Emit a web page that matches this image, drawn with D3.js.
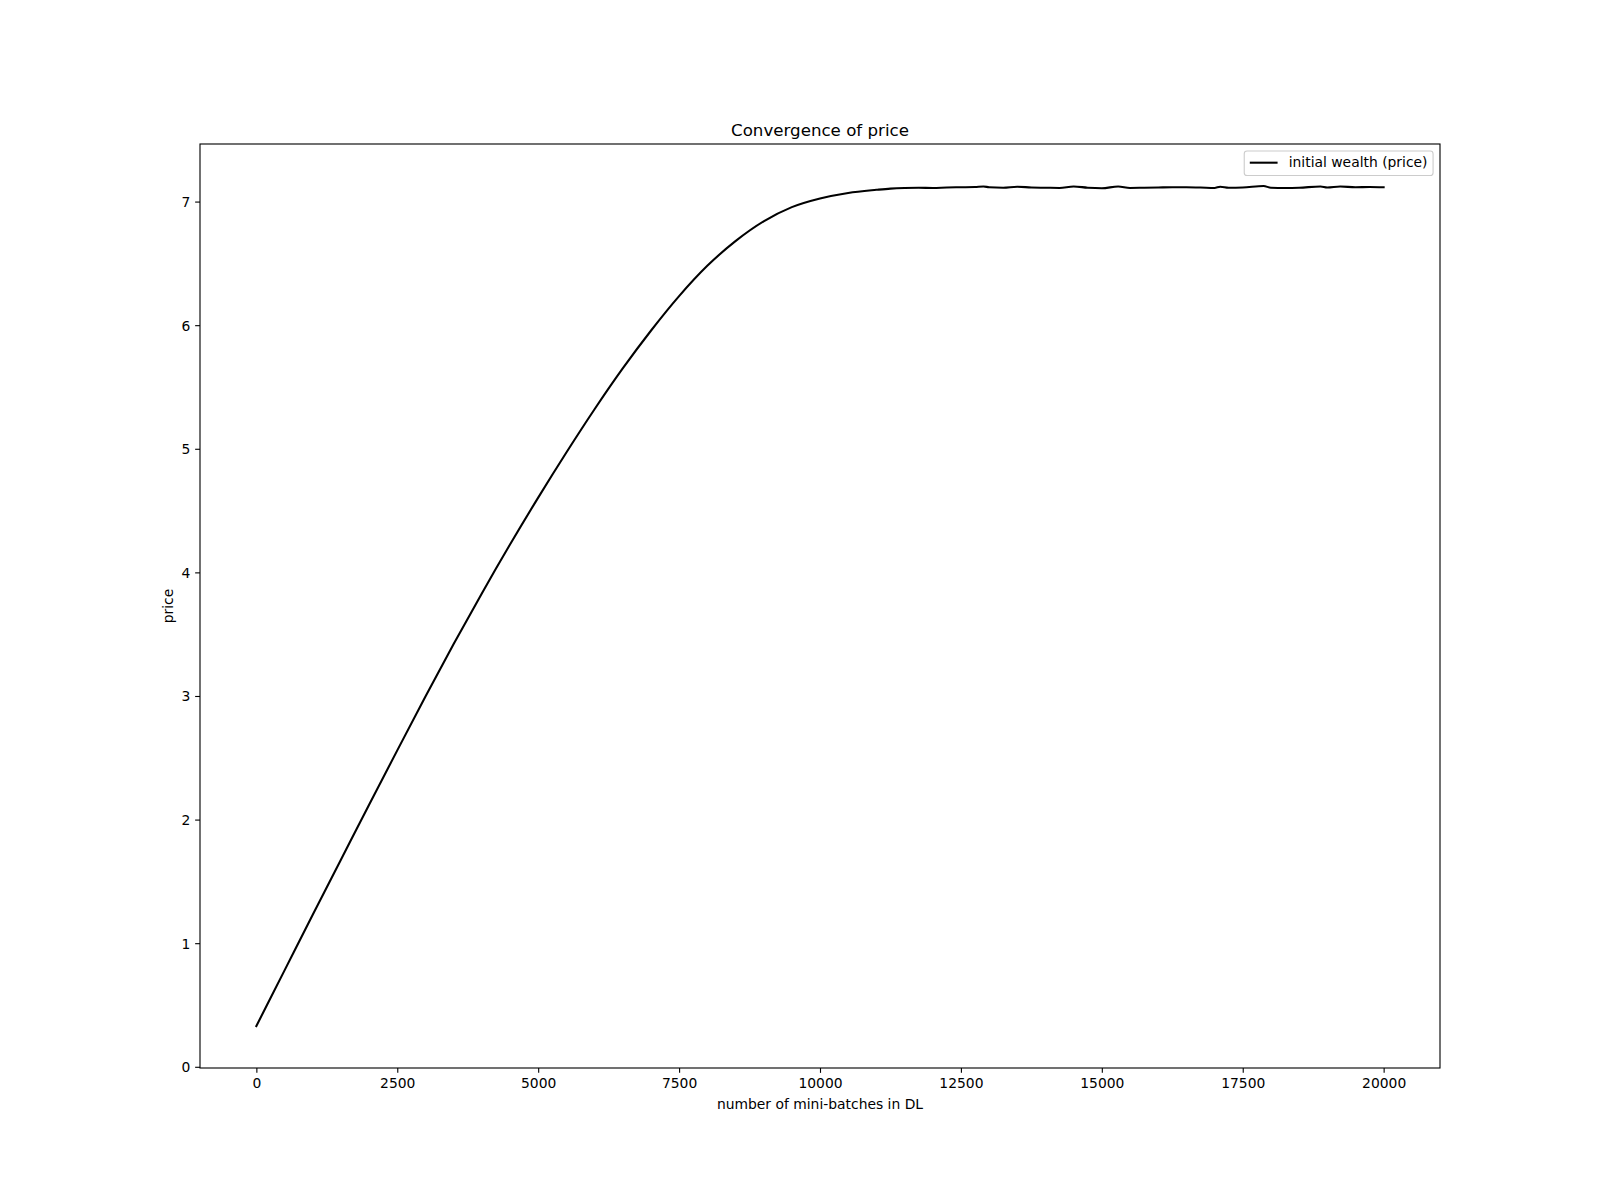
<!DOCTYPE html>
<html>
<head>
<meta charset="utf-8">
<script src="https://cdn.jsdelivr.net/npm/d3@7"></script>
<style>
  html, body { margin: 0; padding: 0; background: #fff; }
  svg { display: block; font-family: "DejaVu Sans", sans-serif; }
</style>
</head>
<body>
<svg id="chart" width="1600" height="1200"></svg>
<script>
// ---- data ----
const steps = [0, 500, 1000, 1500, 2000, 2500, 3000, 3500, 4000, 4500, 5000, 5500, 6000, 6500,
  7000, 7500, 8000, 8500, 9000, 9500, 10000, 10500, 11000, 11250, 11500, 11750, 12000, 12250,
  12500, 12750, 12900, 13000, 13250, 13500, 13750, 14000, 14250, 14500, 14750, 15000, 15290,
  15500, 15750, 16000, 16250, 16500, 16750, 17000, 17100, 17250, 17500, 17870, 18000, 18250,
  18500, 18880, 19000, 19230, 19500, 19750, 20000];
const price = [0.33, 0.78, 1.23, 1.675, 2.12, 2.56, 2.995, 3.42, 3.83, 4.225, 4.605, 4.97, 5.32, 5.65,
  5.955, 6.235, 6.48, 6.68, 6.84, 6.955, 7.025, 7.07, 7.095, 7.105, 7.110, 7.112, 7.110, 7.114,
  7.116, 7.118, 7.122, 7.116, 7.112, 7.120, 7.114, 7.112, 7.110, 7.122, 7.112, 7.108, 7.122,
  7.110, 7.112, 7.114, 7.116, 7.116, 7.114, 7.110, 7.120, 7.112, 7.114, 7.126, 7.112, 7.110,
  7.112, 7.122, 7.114, 7.122, 7.116, 7.118, 7.116];
const xTicks = [0, 2500, 5000, 7500, 10000, 12500, 15000, 17500, 20000];
const yTicks = [0, 1, 2, 3, 4, 5, 6, 7];
const titleText = "Convergence of price";
const xLabelText = "number of mini-batches in DL";
const yLabelText = "price";
const seriesName = "initial wealth (price)";

// ---- layout (matplotlib default figure 16x12 @100dpi) ----
const L = 200, R = 1440, T = 144, B = 1068;
const svg = d3.select("#chart");

const xMin = d3.min(steps), xMax = d3.max(steps);
const yMin = d3.min(price), yMax = d3.max(price);
const xPad = (xMax - xMin) * 0.05, yPad = (yMax - yMin) * 0.05;
const x = d3.scaleLinear().domain([xMin - xPad, xMax + xPad]).range([L, R]);
const y = d3.scaleLinear().domain([yMin - yPad, yMax + yPad]).range([B, T]);

const fs = 13.89;
const tickLen = 4.86, tickPad = 4.86;

// line
const line = d3.line()
  .x((d, i) => x(steps[i]))
  .y(d => y(d))
  .curve(d3.curveMonotoneX);
svg.append("path")
  .datum(price)
  .attr("fill", "none")
  .attr("stroke", "#000")
  .attr("stroke-width", 2.08)
  .attr("stroke-linejoin", "round")
  .attr("stroke-linecap", "square")
  .attr("d", line);

// axes
const xAxis = d3.axisBottom(x).tickValues(xTicks).tickFormat(d3.format("d"))
  .tickSizeInner(tickLen).tickSizeOuter(0).tickPadding(tickPad);
const yAxis = d3.axisLeft(y).tickValues(yTicks).tickFormat(d3.format("d"))
  .tickSizeInner(tickLen).tickSizeOuter(0).tickPadding(tickPad);

const gx = svg.append("g").attr("transform", `translate(0,${B})`).call(xAxis);
const gy = svg.append("g").attr("transform", `translate(${L},0)`).call(yAxis);
[gx, gy].forEach(g => {
  g.select(".domain").remove();
  g.selectAll(".tick line").attr("stroke", "#000").attr("stroke-width", 1.11);
  g.selectAll(".tick text").attr("fill", "#000")
    .style("font-family", "'DejaVu Sans', sans-serif").style("font-size", fs + "px");
});
gx.selectAll(".tick text").attr("dy", null).attr("y", tickLen + tickPad + 10.6);
gy.selectAll(".tick text").attr("dy", null).attr("y", 5);

// frame
svg.append("rect")
  .attr("x", L).attr("y", T).attr("width", R - L).attr("height", B - T)
  .attr("fill", "none").attr("stroke", "#000").attr("stroke-width", 1.11);

// title and labels
svg.append("text").attr("x", (L + R) / 2).attr("y", 136)
  .attr("text-anchor", "middle").style("font-size", "16.67px").attr("fill", "#000")
  .text(titleText);
svg.append("text").attr("x", (L + R) / 2).attr("y", 1109)
  .attr("text-anchor", "middle").style("font-size", fs + "px").attr("fill", "#000")
  .text(xLabelText);
svg.append("text")
  .attr("transform", `translate(172.5,${(T + B) / 2}) rotate(-90)`)
  .attr("text-anchor", "middle").style("font-size", fs + "px").attr("fill", "#000")
  .text(yLabelText);

// legend (upper right)
const lgRight = R - 6.94, lgTop = T + 6.94;
const lg = svg.append("g");
const lgText = lg.append("text")
  .style("font-size", fs + "px").attr("fill", "#000")
  .text(seriesName);
const tw = lgText.node().getComputedTextLength();
const bp = 5.56, hl = 27.78, htp = 11.11;
const lgW = bp + hl + htp + tw + bp;
const lgH = 24.5;
const lgLeft = lgRight - lgW;
lg.insert("rect", "text")
  .attr("x", lgLeft).attr("y", lgTop).attr("width", lgW).attr("height", lgH)
  .attr("rx", 2.8).attr("ry", 2.8)
  .attr("fill", "#fff").attr("fill-opacity", 0.8)
  .attr("stroke", "#cccccc").attr("stroke-width", 1.11);
lg.append("line")
  .attr("x1", lgLeft + bp).attr("x2", lgLeft + bp + hl)
  .attr("y1", lgTop + lgH / 2 - 0.5).attr("y2", lgTop + lgH / 2 - 0.5)
  .attr("stroke", "#000").attr("stroke-width", 2.08);
lgText.attr("x", lgLeft + bp + hl + htp).attr("y", lgTop + lgH / 2 + 4);
</script>
</body>
</html>
